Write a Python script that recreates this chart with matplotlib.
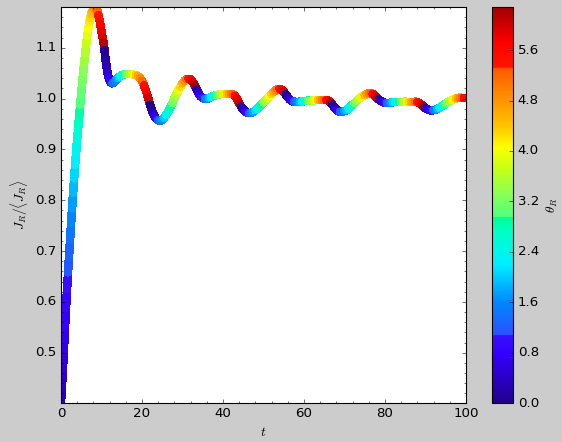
import numpy as np
import matplotlib
matplotlib.use("Agg")
import matplotlib.pyplot as plt
from matplotlib.collections import LineCollection
from matplotlib.colors import LinearSegmentedColormap, Normalize
from matplotlib.ticker import AutoMinorLocator

plt.style.use("classic")

# ---- data ----
t_vals = [
    0.0, 0.25, 0.5, 0.75, 1.0, 1.25, 1.5, 1.75, 2.0, 2.25, 2.5, 2.75, 3.0,
    3.25, 3.5, 3.75, 4.0, 4.25, 4.5, 4.75, 5.0, 5.25, 5.5, 5.75, 6.0, 6.25,
    6.5, 6.75, 7.0, 7.25, 7.5, 7.75, 8.0, 8.25, 8.5, 8.75, 9.0, 9.25, 9.5,
    9.75, 10.0, 10.25, 10.5, 10.75, 11.0, 11.25, 11.5, 11.75, 12.0, 12.25,
    12.5, 12.75, 13.0,
    13.5, 14.0, 14.5, 15.0, 15.5, 16.0, 16.5, 17.0, 17.5, 18.0,
    18.5, 19.0, 19.5, 20.0, 20.5, 21.0, 21.5, 22.0, 22.5, 23.0,
    23.5, 24.0, 24.5, 25.0, 25.5, 26.0, 26.5, 27.0, 27.5, 28.0,
    28.5, 29.0, 29.5, 30.0, 30.5, 31.0, 31.5, 32.0, 32.5, 33.0,
    33.5, 34.0, 34.5, 35.0, 35.5, 36.0, 36.5, 37.0, 37.5, 38.0,
    38.5, 39.0, 39.5, 40.0, 40.5, 41.0, 41.5, 42.0, 42.5, 43.0,
    43.5, 44.0, 44.5, 45.0, 45.5, 46.0, 46.5, 47.0, 47.5, 48.0,
    48.5, 49.0, 49.5, 50.0, 50.5, 51.0, 51.5, 52.0, 52.5, 53.0,
    53.5, 54.0, 54.5, 55.0, 55.5, 56.0, 56.5, 57.0, 57.5, 58.0,
    58.5, 59.0, 59.5, 60.0, 60.5, 61.0, 61.5, 62.0, 62.5, 63.0,
    63.5, 64.0, 64.5, 65.0, 65.5, 66.0, 66.5, 67.0, 67.5, 68.0,
    68.5, 69.0, 69.5, 70.0, 70.5, 71.0, 71.5, 72.0, 72.5, 73.0,
    73.5, 74.0, 74.5, 75.0, 75.5, 76.0, 76.5, 77.0, 77.5, 78.0,
    78.5, 79.0, 79.5, 80.0, 80.5, 81.0, 81.5, 82.0, 82.5, 83.0,
    83.5, 84.0, 84.5, 85.0, 85.5, 86.0, 86.5, 87.0, 87.5, 88.0,
    88.5, 89.0, 89.5, 90.0, 90.5, 91.0, 91.5, 92.0, 92.5, 93.0,
    93.5, 94.0, 94.5, 95.0, 95.5, 96.0, 96.5, 97.0, 97.5, 98.0,
    98.5, 99.0, 99.5, 100.0,
]

J_vals = [
    0.401, 0.436, 0.470, 0.510, 0.550, 0.588, 0.625, 0.658, 0.690, 0.723,
    0.755, 0.785, 0.815, 0.843, 0.870, 0.895, 0.920, 0.943, 0.965, 0.988,
    1.010, 1.031, 1.052, 1.071, 1.090, 1.107, 1.123, 1.137, 1.150, 1.159,
    1.167, 1.172, 1.176, 1.179, 1.180, 1.178, 1.172, 1.164, 1.155, 1.144,
    1.132, 1.121, 1.110, 1.095, 1.078, 1.063, 1.050, 1.041, 1.035, 1.032,
    1.030, 1.030, 1.031,
    1.035, 1.040, 1.043, 1.046, 1.047, 1.048, 1.048, 1.048, 1.048, 1.047,
    1.046, 1.044, 1.040, 1.035, 1.026, 1.015, 1.002, 0.988, 0.976, 0.966,
    0.960, 0.957, 0.956, 0.958, 0.962, 0.968, 0.975, 0.983, 0.991, 1.000,
    1.008, 1.016, 1.023, 1.030, 1.035, 1.038, 1.039, 1.038, 1.033, 1.027,
    1.018, 1.010, 1.004, 1.001, 1.000, 1.000, 1.001, 1.003, 1.005, 1.006,
    1.007, 1.008, 1.009, 1.009, 1.009, 1.009, 1.009, 1.009, 1.008, 1.005,
    0.999, 0.991, 0.984, 0.979, 0.975, 0.972, 0.971, 0.972, 0.974, 0.977,
    0.980, 0.984, 0.988, 0.992, 0.996, 1.000, 1.005, 1.009, 1.013, 1.016,
    1.018, 1.019, 1.017, 1.014, 1.008, 1.003, 0.998, 0.995, 0.994, 0.993,
    0.993, 0.994, 0.994, 0.995, 0.995, 0.996, 0.996, 0.996, 0.997, 0.997,
    0.997, 0.997, 0.997, 0.997, 0.997, 0.996, 0.993, 0.988, 0.983, 0.978,
    0.975, 0.974, 0.974, 0.975, 0.977, 0.980, 0.984, 0.988, 0.991, 0.995,
    0.999, 1.002, 1.005, 1.007, 1.009, 1.010, 1.010, 1.009, 1.006, 1.002,
    0.998, 0.995, 0.993, 0.992, 0.992, 0.992, 0.992, 0.993, 0.993, 0.993,
    0.993, 0.993, 0.993, 0.994, 0.994, 0.994, 0.994, 0.994, 0.994, 0.993,
    0.991, 0.988, 0.984, 0.981, 0.979, 0.977, 0.976, 0.977, 0.978, 0.980,
    0.982, 0.985, 0.987, 0.990, 0.993, 0.995, 0.997, 0.999, 1.000, 1.001,
    1.002, 1.002, 1.002, 1.002,
]

theta_vals = [
    0.35, 0.45, 0.55, 0.68, 0.80, 0.92, 1.04, 1.16, 1.28, 1.42,
    1.58, 1.74, 1.90, 2.06, 2.22, 2.38, 2.54, 2.70, 2.84, 2.96,
    3.08, 3.20, 3.32, 3.46, 3.60, 3.74, 3.88, 4.02, 4.15, 4.28,
    4.41, 4.54, 4.66, 4.78, 4.90, 5.05, 5.20, 5.35, 5.50, 5.65,
    5.80, 5.95, 6.12, 0.08, 0.22, 0.36, 0.50, 0.63, 0.77, 0.91,
    1.05, 1.18, 1.32,
    1.60, 1.87, 2.15, 2.42, 2.70, 2.98, 3.25, 3.53, 3.80, 4.08,
    4.35, 4.63, 4.90, 5.18, 5.45, 5.73, 6.00, 0.00, 0.28, 0.57,
    0.85, 1.13, 1.42, 1.70, 1.98, 2.26, 2.55, 2.83, 3.11, 3.40,
    3.68, 3.96, 4.25, 4.53, 4.81, 5.09, 5.38, 5.66, 5.94, 6.22,
    0.22, 0.50, 0.79, 1.07, 1.35, 1.63, 1.91, 2.19, 2.47, 2.75,
    3.03, 3.31, 3.59, 3.87, 4.15, 4.43, 4.71, 4.99, 5.27, 5.55,
    5.83, 6.11, 0.11, 0.39, 0.67, 0.95, 1.23, 1.51, 1.80, 2.08,
    2.36, 2.64, 2.92, 3.20, 3.48, 3.76, 4.04, 4.32, 4.60, 4.88,
    5.16, 5.44, 5.72, 6.00, 0.00, 0.27, 0.55, 0.82, 1.10, 1.37,
    1.64, 1.91, 2.19, 2.46, 2.73, 3.00, 3.28, 3.55, 3.82, 4.10,
    4.37, 4.64, 4.91, 5.19, 5.46, 5.73, 6.01, 0.00, 0.28, 0.56,
    0.83, 1.11, 1.39, 1.67, 1.95, 2.22, 2.50, 2.78, 3.06, 3.34,
    3.61, 3.89, 4.17, 4.45, 4.73, 5.00, 5.28, 5.56, 5.84, 6.12,
    0.11, 0.39, 0.67, 0.95, 1.22, 1.50, 1.78, 2.06, 2.33, 2.61,
    2.89, 3.17, 3.45, 3.72, 4.00, 4.28, 4.56, 4.84, 5.11, 5.39,
    5.67, 5.95, 6.23, 0.22, 0.50, 0.78, 1.06, 1.33, 1.61, 1.89,
    2.17, 2.45, 2.72, 3.00, 3.28, 3.56, 3.84, 4.11, 4.39, 4.67,
    4.95, 5.23, 5.50, 5.78,
]

cbar_ticks = [0.0, 0.8, 1.6, 2.4, 3.2, 4.0, 4.8, 5.6]
theta_max = 2 * np.pi

# ---- colormap resembling the reference ----
cmap = LinearSegmentedColormap.from_list("thetamap", [
    (0.000, "#23008c"),
    (0.127, "#3300ff"),
    (0.170, "#3a10ff"),
    (0.172, "#2c50ff"),
    (0.255, "#0088ff"),
    (0.350, "#00eeff"),
    (0.430, "#00ffc8"),
    (0.468, "#00ff96"),
    (0.470, "#50ff80"),
    (0.525, "#88ff58"),
    (0.590, "#c4ff18"),
    (0.645, "#ffff00"),
    (0.700, "#ffc400"),
    (0.765, "#ff9400"),
    (0.845, "#ff5a00"),
    (0.848, "#ff1500"),
    (0.910, "#ff0000"),
    (1.000, "#a00000"),
], N=512)

t = np.array(t_vals)
J = np.array(J_vals)
th = np.array(theta_vals)

fig = plt.figure(figsize=(562 / 80, 442 / 80), dpi=80, facecolor="#cccccc")
ax = fig.add_axes([0.1085, 0.0882, 0.7205, 0.8959])
cax = fig.add_axes([0.8755, 0.0882, 0.038, 0.8959])

pts = np.column_stack([t, J]).reshape(-1, 1, 2)
segs = np.concatenate([pts[:-1], pts[1:]], axis=1)
lc = LineCollection(segs, cmap=cmap, norm=Normalize(0, theta_max),
                    linewidths=6.8, capstyle="round", joinstyle="round",
                    antialiaseds=False)
lc.set_array(th[:-1])
ax.add_collection(lc)

ax.set_xlim(0, 100)
ax.set_ylim(J.min(), J.max())
ax.set_xticks([0, 20, 40, 60, 80, 100])
ax.set_yticks([0.5, 0.6, 0.7, 0.8, 0.9, 1.0, 1.1])
ax.xaxis.set_minor_locator(AutoMinorLocator(5))
ax.yaxis.set_minor_locator(AutoMinorLocator(5))
ax.tick_params(labelsize=12)
ax.set_xlabel(r"$t$", fontsize=12)
ax.set_ylabel(r"$J_R/\langle J_R\rangle$", fontsize=12)

cb = fig.colorbar(lc, cax=cax, ticks=cbar_ticks)
cb.ax.set_yticklabels([f"{v:.1f}" for v in cbar_ticks])
cb.ax.tick_params(labelsize=12)
cb.set_label(r"$\theta_R$", fontsize=12)

fig.savefig("out.png", dpi=80, facecolor=fig.get_facecolor())
